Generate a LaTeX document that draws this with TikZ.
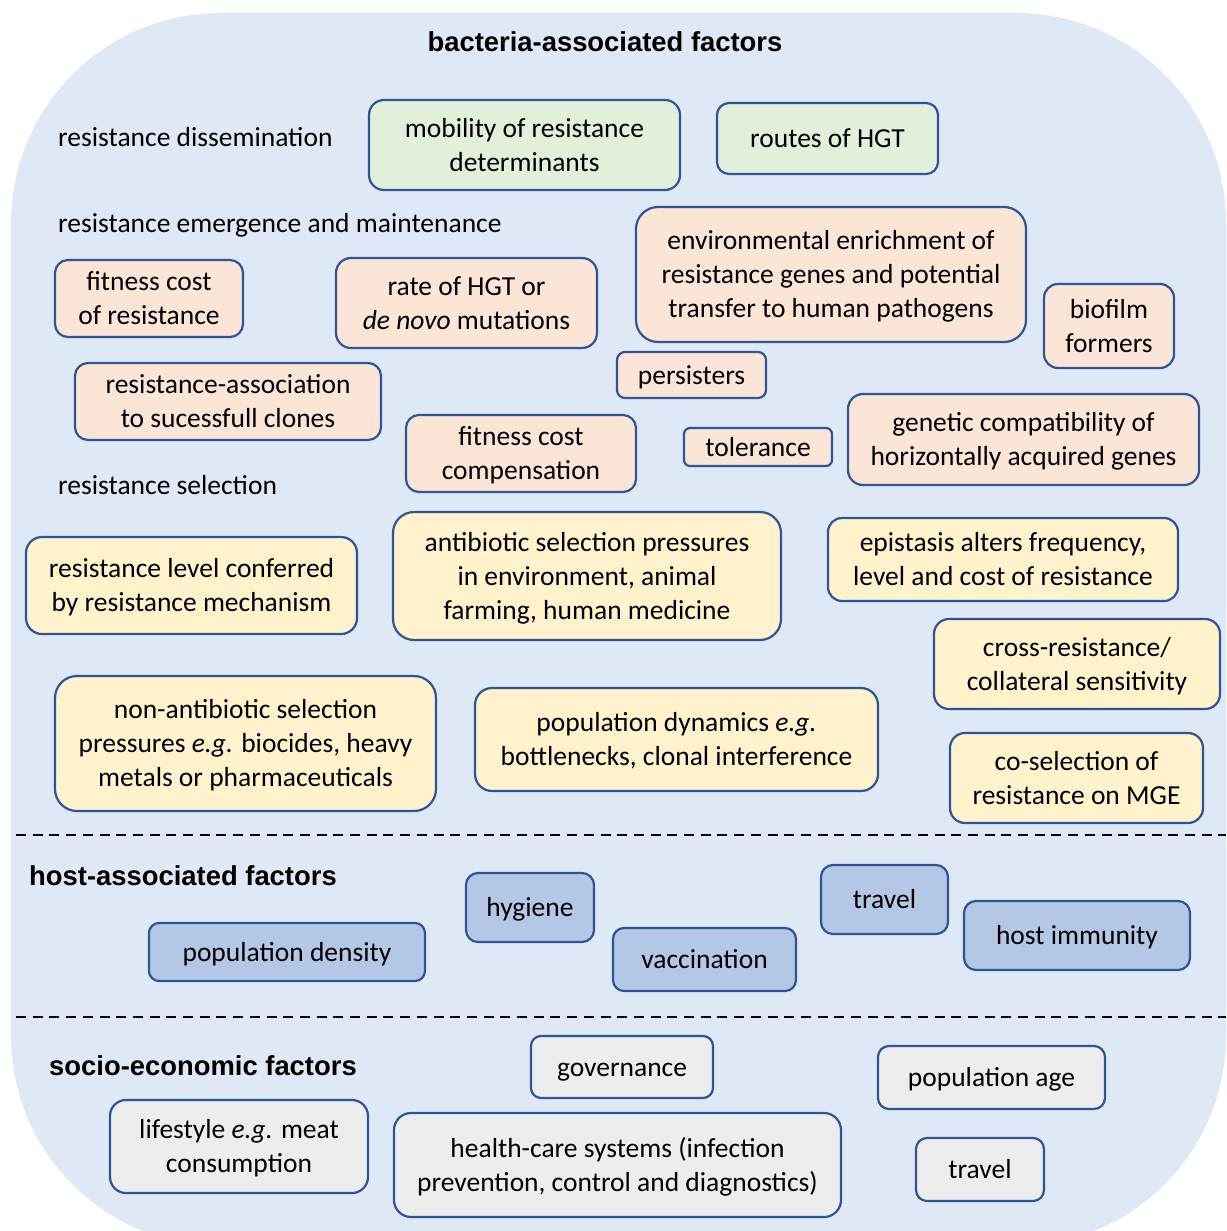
\documentclass[tikz,border=0pt]{standalone}
\usepackage{fontspec}
\setmainfont{Carlito}
\newfontfamily\titlefont{Liberation Sans}
\newcommand\os{\rule[-0.269em]{0pt}{1.221em}}
\definecolor{bgblue}{HTML}{DEE9F5}
\definecolor{edgeblue}{HTML}{2F5597}
\definecolor{fgreen}{HTML}{E2EFDA}
\definecolor{fsalmon}{HTML}{FBE5D6}
\definecolor{fyellow}{HTML}{FFF2CC}
\definecolor{fblue}{HTML}{B4C7E7}
\definecolor{fgrey}{HTML}{EDEDED}
\begin{document}
\begin{tikzpicture}[x=1pt,y=-1pt,
  factor/.style={draw=edgeblue, line width=2.2pt, rectangle, align=center, inner sep=0pt,
    font=\fontsize{27.5}{34}\selectfont, text=black},
  gbox/.style={factor, fill=fgreen},
  sbox/.style={factor, fill=fsalmon},
  ybox/.style={factor, fill=fyellow},
  bbox/.style={factor, fill=fblue},
  qbox/.style={factor, fill=fgrey},
  sublabel/.style={anchor=base west, inner sep=0pt, font=\fontsize{27.5}{34}\selectfont},
  grouptitle/.style={inner sep=0pt, font=\titlefont\bfseries\fontsize{27.4}{33}\selectfont},
  sep/.style={dash pattern=on 10pt off 6.7pt, line width=2pt, black}
]
\useasboundingbox (0,0) rectangle (1226,1231);
\clip (0,0) rectangle (1226,1231);
\fill[bgblue, rounded corners=210pt] (11,13) rectangle (1226,1246);

% titles and sublabels
\node[grouptitle, anchor=base] (tbac) at (605,52) {bacteria-associated factors};
\node[grouptitle, anchor=base west] (thost) at (29,885) {host-associated factors};
\node[grouptitle, anchor=base west] (tsocio) at (49,1075) {socio-economic factors};
\node[sublabel] (ldis) at (58,146) {resistance dissemination};
\node[sublabel] (lemg) at (58,232) {resistance emergence and maintenance};
\node[sublabel] (lsel) at (58,494) {resistance selection};

% separators
\coordinate (s1a) at (16,835);
\coordinate (s1b) at (1226,835);
\coordinate (s2a) at (16,1017);
\coordinate (s2b) at (1226,1017);
\draw[sep] (s1a) -- (s1b);
\draw[sep] (s2a) -- (s2b);

% dissemination
\node[gbox, minimum width=311pt, minimum height=90pt, rounded corners=15pt] (mob) at (524.5,145) {\os mobility of resistance\\determinants\os};
\node[gbox, minimum width=221pt, minimum height=71pt, rounded corners=12pt] (routes) at (827.5,138.5) {\os routes of HGT};

% emergence and maintenance
\node[sbox, minimum width=188pt, minimum height=77pt, rounded corners=13pt] (fitcost) at (149,298.5) {\os fitness cost\\of resistance\os};
\node[sbox, minimum width=261pt, minimum height=90pt, rounded corners=15pt] (rate) at (466.5,303) {\os rate of HGT or\\\textit{de novo} mutations\os};
\node[sbox, minimum width=390pt, minimum height=135pt, rounded corners=22pt] (env) at (831,274.5) {\os environmental enrichment of\\resistance genes and potential\\transfer to human pathogens\os};
\node[sbox, minimum width=130pt, minimum height=84pt, rounded corners=14pt] (biofilm) at (1109,326) {\os biofilm\\formers\os};
\node[sbox, minimum width=149pt, minimum height=46pt, rounded corners=8pt] (persist) at (691.5,375) {\os persisters};
\node[sbox, minimum width=306pt, minimum height=77pt, rounded corners=13pt] (clones) at (228,401.5) {\os resistance-association\\to sucessfull clones\os};
\node[sbox, minimum width=230pt, minimum height=77pt, rounded corners=13pt] (fcomp) at (521,453.5) {\os fitness cost\\compensation\os};
\node[sbox, minimum width=148pt, minimum height=38pt, rounded corners=6pt] (toler) at (758,447) {\os tolerance};
\node[sbox, minimum width=351pt, minimum height=91pt, rounded corners=15pt] (genetic) at (1023.5,439.5) {\os genetic compatibility of\\horizontally acquired genes\os};

% selection
\node[ybox, minimum width=331pt, minimum height=97pt, rounded corners=16pt] (level) at (191.5,585.5) {\os resistance level conferred\\by resistance mechanism\os};
\node[ybox, minimum width=388pt, minimum height=128pt, rounded corners=21pt] (antib) at (587,576) {\os antibiotic selection pressures\\in environment, animal\\farming, human medicine\os};
\node[ybox, minimum width=350pt, minimum height=83pt, rounded corners=14pt] (epist) at (1003,559.5) {\os epistasis alters frequency,\\level and cost of resistance\os};
\node[ybox, minimum width=286pt, minimum height=90pt, rounded corners=15pt] (cross) at (1077,664) {\os cross-resistance/\\collateral sensitivity\os};
\node[ybox, minimum width=381pt, minimum height=135pt, rounded corners=22pt] (nonab) at (245.5,743.5) {\os non-antibiotic selection\\pressures \textit{e.g.} biocides, heavy\\metals or pharmaceuticals\os};
\node[ybox, minimum width=403pt, minimum height=103pt, rounded corners=17pt] (popdyn) at (676.5,739.5) {\os population dynamics \textit{e.g.}\\bottlenecks, clonal interference\os};
\node[ybox, minimum width=253pt, minimum height=90pt, rounded corners=15pt] (cosel) at (1076.5,778) {\os co-selection of\\resistance on MGE\os};

% host
\node[bbox, minimum width=276pt, minimum height=58pt, rounded corners=10pt] (popdens) at (287,952) {\os population density};
\node[bbox, minimum width=128pt, minimum height=69pt, rounded corners=12pt] (hygiene) at (530,907.5) {\os hygiene};
\node[bbox, minimum width=183pt, minimum height=63pt, rounded corners=11pt] (vacc) at (704.5,959.5) {\os vaccination};
\node[bbox, minimum width=127pt, minimum height=69pt, rounded corners=12pt] (travelh) at (884.5,899.5) {\os travel};
\node[bbox, minimum width=226pt, minimum height=69pt, rounded corners=12pt] (hostimm) at (1077,935.5) {\os host immunity};

% socio-economic
\node[qbox, minimum width=182pt, minimum height=62pt, rounded corners=10pt] (gov) at (622,1067) {\os governance};
\node[qbox, minimum width=227pt, minimum height=63pt, rounded corners=11pt] (popage) at (991.5,1077.5) {\os population age};
\node[qbox, minimum width=258pt, minimum height=93pt, rounded corners=16pt] (life) at (239,1146.5) {\os lifestyle \textit{e.g.} meat\\consumption\os};
\node[qbox, minimum width=447pt, minimum height=104pt, rounded corners=17pt] (health) at (617.5,1165) {\os health-care systems (infection\\prevention, control and diagnostics)\os};
\node[qbox, minimum width=128pt, minimum height=63pt, rounded corners=11pt] (travels) at (980,1169.5) {\os travel};
\end{tikzpicture}
\end{document}
